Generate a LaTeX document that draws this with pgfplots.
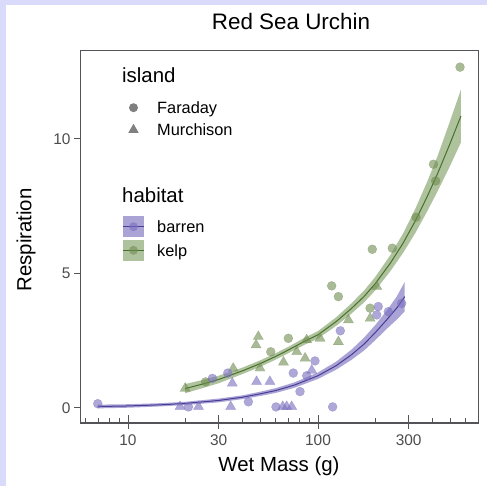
\documentclass[border=0pt]{standalone}
\usepackage{pgfplots}
\pgfplotsset{compat=1.18}
\usepackage{fontspec}
\setmainfont{Liberation Sans}
\definecolor{lavtop}{RGB}{218,218,250}
\definecolor{barpt}{RGB}{120,110,190}
\definecolor{barrib}{RGB}{100,90,180}
\definecolor{barline}{RGB}{72,60,150}
\definecolor{kelppt}{RGB}{110,140,80}
\definecolor{kelprib}{RGB}{110,145,80}
\definecolor{kelpline}{RGB}{72,112,42}
\definecolor{leggray}{RGB}{128,128,128}
\definecolor{tickcol}{RGB}{77,77,77}
\definecolor{framecol}{RGB}{84,84,88}
\begin{document}
\begin{tikzpicture}
\fill[lavtop] (0,0) rectangle (487bp,486bp);
\fill[white] (6bp,0) rectangle (487bp,481bp);
\begin{axis}[
  at={(80bp,63bp)}, anchor=south west,
  scale only axis, width=398bp, height=372bp,
  xmode=log, xmin=5.59, xmax=695, ymin=-0.558, ymax=13.27,
  axis on top,
  axis line style={draw=framecol, draw opacity=1, line width=1bp},
  tick style={draw=framecol, draw opacity=1, line width=1bp},
  tick align=outside, major tick length=6bp,
  xtick pos=left, ytick pos=left,
  xtick={10,30,100,300}, xticklabels={10,30,100,300},
  ytick={0,5,10}, yticklabels={0,5,10},
  extra x ticks={6,7,8,9,10,20,30,40,50,60,70,80,90,100,200,300,400,500,600},
  extra x tick labels={},
  extra x tick style={tick align=inside, major tick length=5bp},
  tick label style={font=\fontsize{15.5}{18}\selectfont, text=tickcol},
  xticklabel style={anchor=base, yshift=-16bp},
  yticklabel style={anchor=east},
  xlabel={Wet Mass (g)},
  xlabel style={at={(axis description cs:0.5,-0.1317)}, anchor=base, font=\fontsize{20.5}{24}\selectfont},
  ylabel={Respiration},
  ylabel style={at={(axis description cs:-0.1219,0.492)}, anchor=base, font=\fontsize{20.5}{24}\selectfont},
]
% kelp points
\addplot[forget plot, only marks, mark=*, mark size=4.5bp, kelppt, mark options={opacity=0.6, line width=0.2bp}] coordinates {
(25.6,0.97) (56.4,2.09) (69.8,2.59) (118,4.54) (128,4.14) (188,3.71) (193,5.90) (246,5.94) (328,7.09) (405,9.06) (416,8.44) (559,12.67)};
\addplot[forget plot, only marks, mark=triangle*, mark size=5.9bp, kelppt, mark options={opacity=0.6, line width=0.2bp}] coordinates {
(20.0,0.73) (35.8,1.47) (48.5,2.65) (47.2,2.34) (49.5,1.48) (65.8,1.70) (77.3,2.09) (85.5,1.85) (87.1,2.53) (102.5,2.59) (128,2.46) (144.6,3.27) (188,3.33) (204,4.51)};
% barren points
\addplot[forget plot, only marks, mark=*, mark size=4.5bp, barpt, mark options={opacity=0.6, line width=0.2bp}] coordinates {
(6.93,0.16) (20.8,0.04) (43.0,0.23) (60.1,0.04) (119.4,0.04) (80.4,0.61) (74.1,1.30) (27.8,1.10) (33.5,1.30) (87.2,1.20) (96.4,1.75) (131,2.87) (207.5,3.77) (203.6,3.46) (234.4,3.58) (275.5,3.89)};
\addplot[forget plot, only marks, mark=triangle*, mark size=5.9bp, barpt, mark options={opacity=0.6, line width=0.2bp}] coordinates {
(18.8,0.05) (23.5,0.05) (34.7,0.05) (65.2,0.05) (68.4,0.05) (72.7,0.05) (35.4,0.92) (47.5,0.98) (55.8,0.98) (92.7,1.40)};
% ribbons
\addplot[forget plot, fill=barrib, fill opacity=0.55, draw=none] coordinates {
(6.93,0.125) (10,0.14) (15,0.18) (20,0.23) (30,0.35) (40,0.47) (50,0.61) (60,0.74) (75,0.95) (100,1.32) (125,1.73) (150,2.17) (175,2.62) (200,3.08) (230,3.62) (260,4.15) (286,4.69)
(286,3.59) (260,3.29) (230,2.94) (200,2.52) (175,2.14) (150,1.79) (125,1.43) (100,1.08) (75,0.75) (60,0.56) (50,0.45) (40,0.33) (30,0.21) (20,0.11) (15,0.06) (10,0.01) (6.93,-0.015)} -- cycle;
\addplot[forget plot, fill=kelprib, fill opacity=0.55, draw=none] coordinates {
(20,0.89) (25,1.05) (30,1.20) (40,1.50) (50,1.78) (60,2.04) (70,2.28) (85,2.61) (100,2.86) (125,3.38) (150,3.89) (175,4.37) (200,4.87) (240,5.68) (280,6.48) (325,7.40) (375,8.40) (424,9.33) (490,10.57) (565,11.83)
(565,9.87) (490,8.93) (424,8.03) (375,7.30) (325,6.50) (280,5.76) (240,5.08) (200,4.37) (175,3.93) (150,3.51) (125,3.06) (100,2.58) (85,2.35) (70,2.04) (60,1.80) (50,1.54) (40,1.26) (30,0.92) (25,0.75) (20,0.55)} -- cycle;
% fitted lines
\addplot[forget plot, barline, line width=1bp, opacity=1] coordinates {
(6.93,0.055) (10,0.075) (15,0.12) (20,0.17) (30,0.28) (40,0.40) (50,0.53) (60,0.65) (75,0.85) (100,1.20) (125,1.58) (150,1.98) (175,2.38) (200,2.80) (230,3.28) (260,3.72) (286,4.14)};
\addplot[forget plot, kelpline, line width=1bp, opacity=1] coordinates {
(20,0.72) (25,0.90) (30,1.06) (40,1.38) (50,1.66) (60,1.92) (70,2.16) (85,2.48) (100,2.72) (125,3.22) (150,3.70) (175,4.15) (200,4.62) (240,5.38) (280,6.12) (325,6.95) (375,7.85) (424,8.68) (490,9.75) (565,10.85)};
\end{axis}
% panel frame and ticks as thin filled bars
\fill[framecol] (79.5bp,62.5bp) rectangle (478.5bp,63.5bp);
\fill[framecol] (79.5bp,434.5bp) rectangle (478.5bp,435.5bp);
\fill[framecol] (79.5bp,62.5bp) rectangle (80.5bp,435.5bp);
\fill[framecol] (477.5bp,62.5bp) rectangle (478.5bp,435.5bp);
\foreach \x in {128.09,218.74,318.09,408.74} {
  \fill[framecol] ({\x*1bp-0.5bp},57bp) rectangle ({\x*1bp+0.5bp},71bp);
}
\foreach \x in {85.85,98.56,109.58,119.29,185.28,242.49,260.9,275.95,288.66,299.68,309.39,375.28,432.49,450.9,465.95} {
  \fill[framecol] ({\x*1bp-0.5bp},63bp) rectangle ({\x*1bp+0.5bp},67bp);
}
\foreach \y in {78.01,212.52,347.03} {
  \fill[framecol] (74bp,{\y*1bp-0.5bp}) rectangle (80bp,{\y*1bp+0.5bp});
}
% legend: island
\node[anchor=base west, font=\fontsize{20.5}{24}\selectfont, inner sep=0pt] at (122bp,403.3bp) {island};
\fill[leggray, opacity=1] (133.5bp,378.3bp) circle (4.5bp);
\fill[leggray, opacity=1] (133.5bp,362.2bp) -- (138.7bp,353.2bp) -- (128.3bp,353.2bp) -- cycle;
\node[anchor=base west, font=\fontsize{16.4}{19}\selectfont, inner sep=0pt] at (157bp,372.4bp) {Faraday};
\node[anchor=base west, font=\fontsize{16.4}{19}\selectfont, inner sep=0pt] at (157bp,350.3bp) {Murchison};
% legend: habitat
\node[anchor=base west, font=\fontsize{20.5}{24}\selectfont, inner sep=0pt] at (122bp,283.7bp) {habitat};
\fill[barrib, opacity=0.55] (123bp,248.95bp) rectangle (144bp,269.65bp);
\draw[barline, opacity=1, line width=1bp] (123bp,259.3bp) -- (144bp,259.3bp);
\fill[barpt, opacity=0.6] (133.5bp,259.3bp) circle (4.5bp);
\fill[kelprib, opacity=0.55] (123bp,225.35bp) rectangle (144bp,246.05bp);
\draw[kelpline, opacity=1, line width=1bp] (123bp,235.7bp) -- (144bp,235.7bp);
\fill[kelppt, opacity=0.6] (133.5bp,235.7bp) circle (4.5bp);
\node[anchor=base west, font=\fontsize{16.4}{19}\selectfont, inner sep=0pt] at (157bp,253.4bp) {barren};
\node[anchor=base west, font=\fontsize{16.4}{19}\selectfont, inner sep=0pt] at (157bp,229.8bp) {kelp};
% title
\node[anchor=base, font=\fontsize{22.5}{27}\selectfont, inner sep=0pt] at (291bp,456bp) {Red Sea Urchin};
\end{tikzpicture}
\end{document}
